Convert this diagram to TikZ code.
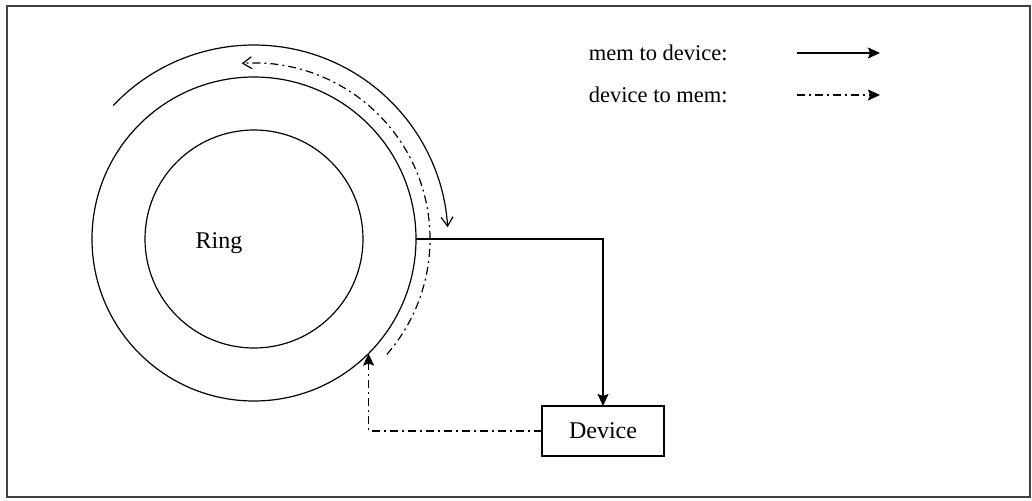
\documentclass[tikz,border=0pt]{standalone}
\usepackage{fontspec}
\setmainfont{Liberation Serif}
\usetikzlibrary{arrows.meta}

\tikzset{
  dashdot/.style={dash pattern=on 8pt off 4pt on 2pt off 4pt},
  fillarrow/.style={-{Stealth[length=12pt,width=11pt,inset=2pt]}},
  openarrow/.style={-{Straight Barb[length=9pt,width=12pt]}}
}

\begin{document}
\begin{tikzpicture}[x=1pt, y=1pt, line width=1.2pt, font=\fontsize{24}{28}\selectfont]
  \useasboundingbox (0,0) rectangle (1032,-500);
  \draw[line width=2pt, black!75] (7,-6) rectangle (1030,-497);

  % Ring
  \node[draw, circle, minimum size=324pt, inner sep=0pt, outer sep=0pt] (ring) at (254,-239) {};
  \node[draw, circle, minimum size=218pt, inner sep=0pt, outer sep=0pt] (core) at (ring.center) {};
  \node (ringlabel) at (219,-243) {Ring};

  % Device
  \node[draw, rectangle, minimum width=122pt, minimum height=50pt, outer sep=0pt] (device) at (603,-431) {Device};

  % mem to device
  \draw[openarrow] (ring.center) ++(136.5:194) arc[start angle=136.5, end angle=3.5, radius=194];
  \draw[fillarrow] (ring.east) -| (device.north);

  % device to mem
  \draw[dashdot, openarrow] (ring.center) ++(-41:176) arc[start angle=-41, end angle=94, radius=176];
  \draw[dashdot, fillarrow] (device.west) -| (ring.-45);

  % Legend
  \node[anchor=west, font=\fontsize{22.5}{26}\selectfont] (solidkey) at (585,-53) {mem to device:};
  \node[anchor=west, font=\fontsize{22.5}{26}\selectfont] (dashkey) at (585,-95) {device to mem:};
  \coordinate (solidstart) at (797,-53);
  \coordinate (solidend) at (880,-53);
  \coordinate (dashstart) at (797,-95);
  \coordinate (dashend) at (880,-95);
  \draw[fillarrow] (solidstart) -- (solidend);
  \draw[dashdot, fillarrow] (dashstart) -- (dashend);
\end{tikzpicture}
\end{document}
